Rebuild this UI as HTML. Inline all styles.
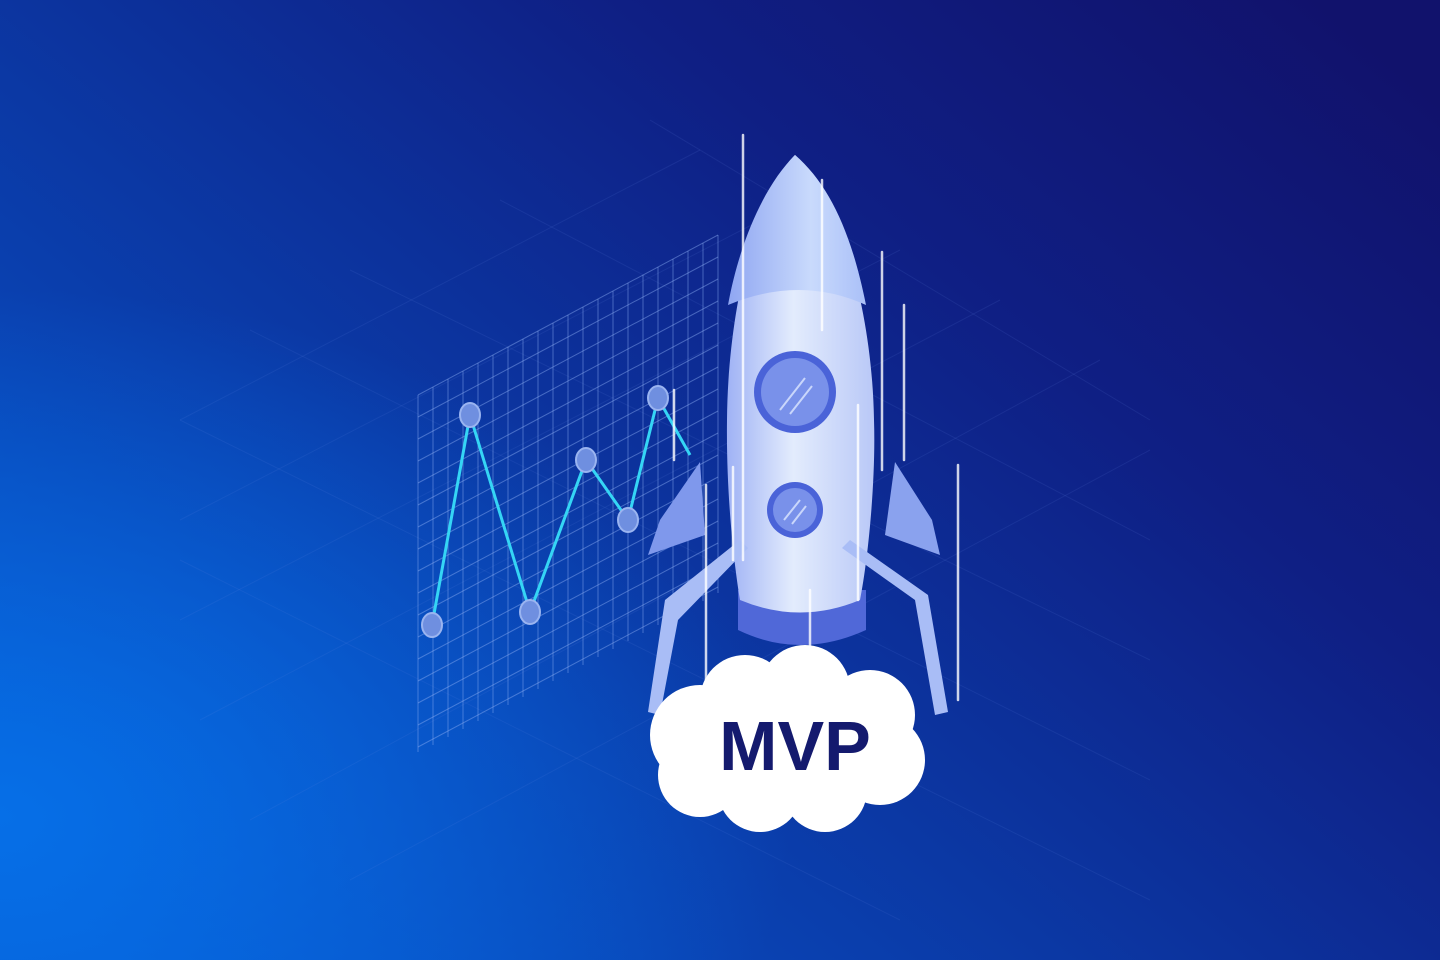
<!DOCTYPE html>
<html><head><meta charset="utf-8"><style>
html,body{margin:0;padding:0;width:1440px;height:960px;overflow:hidden}
svg{display:block}
</style></head><body>
<svg width="1440" height="960" viewBox="0 0 1440 960" xmlns="http://www.w3.org/2000/svg">
<defs>
<linearGradient id="bg" x1="0" y1="0.9" x2="1" y2="0.1">
<stop offset="0" stop-color="#0757cf"/>
<stop offset="0.4" stop-color="#0b38a4"/>
<stop offset="0.7" stop-color="#0f1f84"/>
<stop offset="1" stop-color="#11126c"/>
</linearGradient>
<radialGradient id="glow" cx="0" cy="0.85" r="0.55">
<stop offset="0" stop-color="#0672ea" stop-opacity="0.9"/>
<stop offset="1" stop-color="#0672ea" stop-opacity="0"/>
</radialGradient>
<linearGradient id="body" x1="0" y1="0" x2="1" y2="0">
<stop offset="0" stop-color="#9fb2f5"/>
<stop offset="0.45" stop-color="#e3ecfd"/>
<stop offset="1" stop-color="#b9c8f7"/>
</linearGradient>
<linearGradient id="nose" x1="0" y1="0" x2="1" y2="0">
<stop offset="0" stop-color="#8fa6f2"/>
<stop offset="0.6" stop-color="#c9dafc"/>
<stop offset="1" stop-color="#aac0f8"/>
</linearGradient>
</defs>
<rect width="1440" height="960" fill="url(#bg)"/>
<rect width="1440" height="960" fill="url(#glow)"/>
<g stroke="#6f8fe8" stroke-opacity="0.12" stroke-width="1">
<path d="M180 520 L800 200 M180 620 L900 250 M200 720 L1000 300 M250 820 L1100 360 M350 880 L1150 450 M180 420 L700 150"/>
<path d="M180 420 L1150 900 M250 330 L1150 780 M350 270 L1150 660 M500 200 L1150 540 M650 120 L1150 420 M180 560 L900 920"/>
</g>
<g stroke="#8fb0f5" stroke-opacity="0.45" stroke-width="1">
<path d="M418 395 L418 752 M433 387 L433 745 M448 379 L448 737 M463 371 L463 729 M478 363 L478 721 M493 355 L493 713 M508 347 L508 705 M523 339 L523 697 M538 331 L538 689 M553 323 L553 681 M568 315 L568 673 M583 307 L583 665 M598 299 L598 657 M613 291 L613 649 M628 283 L628 641 M643 275 L643 633 M658 267 L658 625 M673 259 L673 617 M688 251 L688 609 M703 243 L703 601 M718 235 L718 593"/>
<path d="M418 395 L718 235 M418 417 L718 257 M418 439 L718 279 M418 461 L718 301 M418 483 L718 323 M418 505 L718 345 M418 527 L718 367 M418 549 L718 389 M418 571 L718 411 M418 593 L718 433 M418 615 L718 455 M418 637 L718 477 M418 659 L718 499 M418 681 L718 521 M418 703 L718 543 M418 725 L718 565 M418 747 L718 587"/>
</g>
<polyline points="432,625 470,415 530,612 586,460 628,520 658,398 690,455" fill="none" stroke="#35d5f5" stroke-width="3"/>
<g fill="#6f8fe0" stroke="#9ab4f0" stroke-width="2">
<ellipse cx="432" cy="625" rx="10" ry="12"/><ellipse cx="470" cy="415" rx="10" ry="12"/>
<ellipse cx="530" cy="612" rx="10" ry="12"/><ellipse cx="586" cy="460" rx="10" ry="12"/>
<ellipse cx="628" cy="520" rx="10" ry="12"/><ellipse cx="658" cy="398" rx="10" ry="12"/>
</g>
<path d="M700 462 L660 520 L648 555 L705 535 Z" fill="#7f98ec"/>
<path d="M895 462 L932 520 L940 555 L885 535 Z" fill="#8aa2ee"/>
<path d="M738 590 L738 630 Q800 660 866 630 L866 590 Z" fill="#5068d8"/>
<path d="M795 155 C760 190 728 300 727 420 C726 500 735 570 740 600 Q800 625 860 600 C868 560 876 480 874 420 C872 300 835 190 795 155 Z" fill="url(#body)"/>
<path d="M795 155 C765 185 740 240 728 305 Q800 275 866 305 C852 235 830 185 795 155 Z" fill="url(#nose)"/>
<circle cx="795" cy="392" r="41" fill="#4a63d8"/><circle cx="795" cy="392" r="34" fill="#7991ea"/>
<path d="M780 410 L805 378 M790 414 L812 386" stroke="#c9d6fb" stroke-width="2"/>
<circle cx="795" cy="510" r="28" fill="#4a63d8"/><circle cx="795" cy="510" r="22" fill="#7991ea"/>
<path d="M784 520 L800 500 M792 524 L806 506" stroke="#c9d6fb" stroke-width="2"/>
<path d="M740 540 L748 548 L678 620 L660 715 L648 712 L665 600 Z" fill="#a9bdf6"/>
<path d="M850 540 L842 548 L915 600 L935 715 L948 712 L928 595 Z" fill="#a9bdf6"/>
<g stroke="#ffffff" stroke-opacity="0.8" stroke-width="2.5" stroke-linecap="round">
<line x1="743" y1="135" x2="743" y2="560"/><line x1="822" y1="180" x2="822" y2="330"/>
<line x1="882" y1="252" x2="882" y2="470"/><line x1="904" y1="305" x2="904" y2="460"/>
<line x1="958" y1="465" x2="958" y2="700"/><line x1="858" y1="405" x2="858" y2="600"/>
<line x1="733" y1="467" x2="733" y2="560"/><line x1="706" y1="485" x2="706" y2="720"/>
<line x1="810" y1="590" x2="810" y2="690"/><line x1="674" y1="390" x2="674" y2="460"/>
</g>
<g fill="#ffffff">
<circle cx="700" cy="735" r="50"/><circle cx="745" cy="700" r="45"/><circle cx="805" cy="690" r="45"/>
<circle cx="870" cy="715" r="45"/><circle cx="880" cy="760" r="45"/><circle cx="825" cy="790" r="42"/>
<circle cx="760" cy="790" r="42"/><circle cx="700" cy="775" r="42"/><rect x="690" y="700" width="200" height="100"/>
</g>
<text x="795" y="770" text-anchor="middle" font-family="Liberation Sans, sans-serif" font-weight="bold" font-size="70" fill="#141a6e">MVP</text>
</svg>
</body></html>
